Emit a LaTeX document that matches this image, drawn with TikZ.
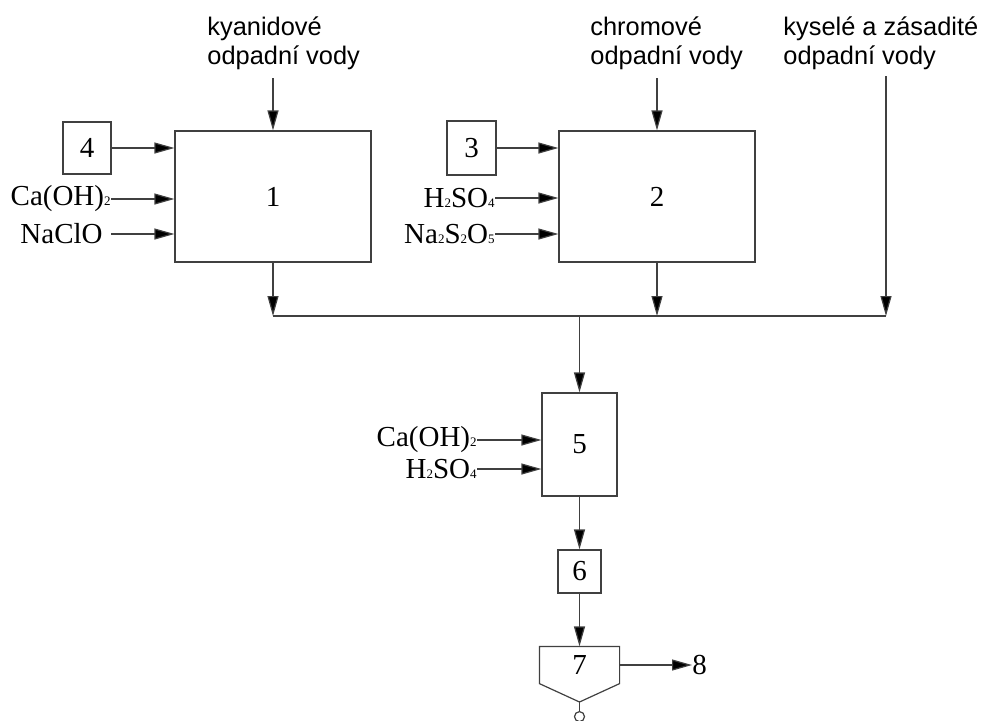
\documentclass[tikz,border=0pt]{standalone}
\usepackage{fontspec}
\setmainfont{Liberation Serif}
\setsansfont{Liberation Sans}
\usetikzlibrary{arrows.meta}
\tikzstyle{unit}=[draw=black!75, line width=0.6pt, inner sep=0pt, font=\fontsize{14.5}{16}\selectfont]
\tikzstyle{chem}=[inner sep=0pt, anchor=east, font=\fontsize{14.5}{16}\selectfont]
\tikzstyle{water}=[inner sep=0pt, anchor=west, align=left, font=\sffamily\fontsize{12.7}{14.5}\selectfont]
\tikzstyle{pipe}=[draw=black!75, line width=0.6pt]
\tikzstyle{flow}=[pipe, -{Triangle[length=10pt,width=5.5pt,fill=black]}]
\newcommand{\ix}[1]{{\fontsize{6.5}{6.5}\selectfont #1}}

\begin{document}
\begin{tikzpicture}[x=0.5pt, y=-0.5pt]
    \useasboundingbox (0,0) rectangle (992,720);
    % units
    \node[unit, minimum width=98pt, minimum height=65.5pt] (u1) at (273,196.5) {1};
    \node[unit, minimum width=98pt, minimum height=65.5pt] (u2) at (657,196.5) {2};
    \node[unit, minimum width=24pt, minimum height=26pt] (u4) at (87,148) {4};
    \node[unit, minimum width=24.5pt, minimum height=27pt] (u3) at (471.5,148) {3};
    \node[unit, minimum width=37.5pt, minimum height=51.5pt] (u5) at (579.5,444.5) {5};
    \node[unit, minimum width=21.5pt, minimum height=21.5pt] (u6) at (579.5,571.5) {6};
    \node[unit, draw=none, minimum width=39.5pt, minimum height=18pt] (u7) at (579.5,665) {7};
    \draw[pipe] (u7.north west) -- (u7.north east) -- (u7.south east)
        -- (579.5,702) coordinate (cone) -- (u7.south west) -- cycle;
    \node[pipe, circle, minimum size=5pt, inner sep=0pt, anchor=north] (drain) at (579.5,711) {};
    \draw[pipe] (cone) -- (drain);
    % waste waters
    \node[water] (w1) at (207,43) {kyanidové\\odpadní vody};
    \node[water] (w2) at (590,43) {chromové\\odpadní vody};
    \node[water] (w3) at (783,43) {kyselé a zásadité\\odpadní vody};
    \coordinate (in1) at (273,78);
    \coordinate (in2) at (657,78);
    \coordinate (in3) at (886,76);
    \coordinate (c3) at (886,316);
    \draw[flow] (in1) -- (u1.north);
    \draw[flow] (in2) -- (u2.north);
    % chemicals
    \node[chem] (ca1) at (111,199) {Ca(OH)\ix{2}};
    \node[chem] (na1) at (103,234) {NaClO};
    \node[chem] (h2) at (495,198) {H\ix{2}SO\ix{4}};
    \node[chem] (s2) at (495,234) {Na\ix{2}S\ix{2}O\ix{5}};
    \node[chem] (ca5) at (477,440) {Ca(OH)\ix{2}};
    \node[chem] (h5) at (477,469) {H\ix{2}SO\ix{4}};
    \draw[flow] (u4.east) -- (u4.east -| u1.west);
    \draw[flow] (ca1.east) -- (ca1.east -| u1.west);
    \draw[flow] ([xshift=4pt]na1.east) -- (na1.east -| u1.west);
    \draw[flow] (u3.east) -- (u3.east -| u2.west);
    \draw[flow] (h2.east) -- (h2.east -| u2.west);
    \draw[flow] (s2.east) -- (s2.east -| u2.west);
    \draw[flow] (ca5.east) -- (ca5.east -| u5.west);
    \draw[flow] (h5.east) -- (h5.east -| u5.west);
    % collector
    \draw[flow] (u1.south) -- (u1.south |- c3);
    \draw[flow] (u2.south) -- (u2.south |- c3);
    \draw[flow] (in3) -- (c3);
    \draw[pipe] (u1.south |- c3) -- (c3);
    \draw[flow] (u5.north |- c3) -- (u5.north);
    \draw[flow] (u5.south) -- (u6.north);
    \draw[flow] (u6.south) -- (u7.north);
    \node[chem, anchor=west] (out) at (692,665) {8};
    \draw[flow] (u7.east) -- (out.west);
\end{tikzpicture}
\end{document}
